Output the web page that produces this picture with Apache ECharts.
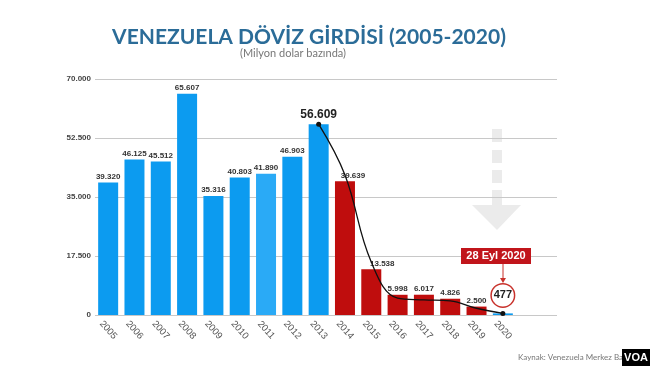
<!DOCTYPE html>
<html><head><meta charset="utf-8">
<script src="https://cdn.jsdelivr.net/npm/echarts@6/dist/echarts.min.js"></script>
<style>html,body{margin:0;padding:0;background:#fff}#c{width:650px;height:366px}</style>
</head><body><div id="c"></div>
<script>
const years = ['2005','2006','2007','2008','2009','2010','2011','2012','2013','2014','2015','2016','2017','2018','2019','2020'];
const inflows = [39320,46125,45512,65607,35316,40803,41890,46903,56609,39639,13538,5998,6017,4826,2500,477];
const trendLine = [null,null,null,null,null,null,null,null,56609,41500,15700,5000,4500,4200,2000,477];
const yTicks = [0,17500,35000,52500,70000];

function fmt(v){return String(v).replace(/\B(?=(\d{3})+(?!\d))/g,'.');}
const blue='#0c9bf0', blue2='#2aaaf6', red='#bf0d0d';

const barData = inflows.map((v,i)=>{
  const item={value:v,itemStyle:{color: i>=9 && i<15 ? red : (i===6?blue2:blue)}};
  if(i===8) item.label={fontSize:12,fontWeight:'bold',color:'#222',distance:3};
  if(i===9) item.label={offset:[8,0]};
  if(i===10) item.label={offset:[11,0]};
  if(i===15) item.label={fontSize:11,fontWeight:'bold',color:'#222',backgroundColor:'#fff',borderColor:'#c8312b',borderWidth:1.5,borderRadius:12,width:22,height:22,lineHeight:22,align:'center',padding:0,distance:7};
  return item;
});

const chart = echarts.init(document.getElementById('c'),null,{renderer:'canvas'});
chart.setOption({
  animation:false,
  title:[{text:'VENEZUELA DÖVİZ GİRDİSİ (2005-2020)',left:304,textAlign:'center',top:22,textStyle:{fontSize:21,fontWeight:'bold',color:'#2b6c98',fontFamily:'Lato'}},
         {text:'(Milyon dolar bazında)',left:288,textAlign:'center',top:43,textStyle:{fontSize:11,fontWeight:'normal',color:'#777',fontFamily:'Lato'}}],
  grid:[{left:95,width:421,top:79,bottom:51},{left:95,right:93,top:79,bottom:51}],
  xAxis:[{type:'category',data:years,gridIndex:0,axisLine:{show:false},axisTick:{show:false},
          axisLabel:{rotate:-48,fontSize:9.5,color:'#555',margin:15,align:'center',verticalAlign:'middle',fontFamily:'Liberation Sans'}},
         {type:'value',gridIndex:1,min:0,max:1,show:false}],
  yAxis:[{type:'value',gridIndex:0,min:0,max:70000,interval:17500,show:false},
         {type:'value',gridIndex:1,min:0,max:70000,interval:17500,axisLine:{show:false},axisTick:{show:false},
          splitLine:{lineStyle:{color:'#c8c8c8',width:1}},
          axisLabel:{formatter:v=>fmt(v),fontSize:8,fontWeight:'bold',color:'#444',margin:4,fontFamily:'Liberation Sans'}}],
  series:[
    {type:'bar',xAxisIndex:0,yAxisIndex:0,data:barData,barWidth:20,
     label:{show:true,position:'top',distance:2,formatter:p=>fmt(p.value),fontSize:8,fontWeight:'bold',color:'#333',fontFamily:'Liberation Sans'},z:2},
    {type:'line',xAxisIndex:0,yAxisIndex:0,data:trendLine,smooth:0.4,connectNulls:false,
     lineStyle:{color:'#111',width:1.3},symbol:'circle',symbolSize:(v,p)=>(p.dataIndex===8||p.dataIndex===15)?5:0,
     itemStyle:{color:'#111'},z:5}
  ],
  graphic:[
    {type:'rect',shape:{x:492,y:129,width:10,height:13},style:{fill:'#ebebeb'},z:0},
    {type:'rect',shape:{x:492,y:150,width:10,height:13},style:{fill:'#ebebeb'},z:0},
    {type:'rect',shape:{x:492,y:170,width:10,height:13},style:{fill:'#ebebeb'},z:0},
    {type:'rect',shape:{x:492,y:190,width:10,height:15},style:{fill:'#ebebeb'},z:0},
    {type:'polygon',shape:{points:[[472,205],[521,205],[497,230]]},style:{fill:'#ebebeb'},z:0},
    {type:'rect',shape:{x:461,y:248,width:70,height:16},style:{fill:'#c1151b'},z:10},
    {type:'text',x:496,y:256,style:{text:'28 Eyl 2020',fill:'#fff',font:'bold 11px Liberation Sans',textAlign:'center',textVerticalAlign:'middle'},z:11},
    {type:'line',shape:{x1:503,y1:264,x2:503,y2:281},style:{stroke:'#c8312b',lineWidth:1},z:10},
    {type:'polygon',shape:{points:[[500,278],[506,278],[503,283]]},style:{fill:'#c8312b'},z:10},
    {type:'text',x:518,y:357,style:{text:'Kaynak: Venezuela Merkez Bankası',fill:'#777',font:'8px Lato',textVerticalAlign:'middle'},z:10},
    {type:'rect',shape:{x:622,y:349,width:28,height:17},style:{fill:'#000'},z:20},
    {type:'text',x:636,y:358,style:{text:'VOA',fill:'#fff',font:'bold 11px Liberation Sans',textAlign:'center',textVerticalAlign:'middle'},z:21}
  ]
});
</script></body></html>
